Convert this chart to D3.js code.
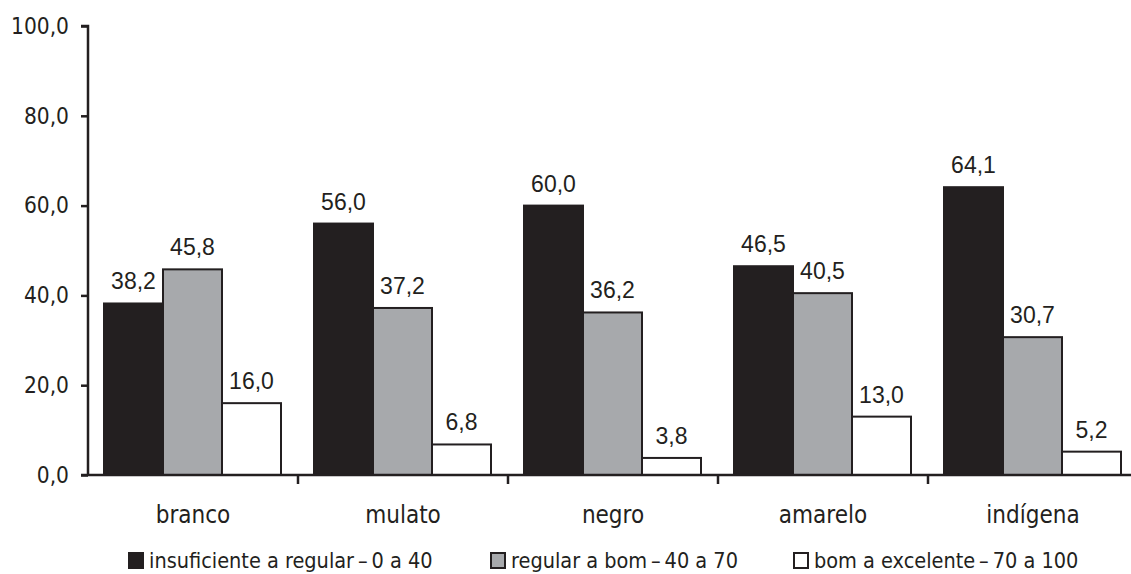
<!DOCTYPE html>
<html><head><meta charset="utf-8">
<script src="https://cdn.jsdelivr.net/npm/d3@7"></script>
<style>body{margin:0;background:#fff}svg{display:block}</style>
</head><body>
<svg id="c" width="1131" height="574"></svg>
<script>
const categories = ["branco","mulato","negro","amarelo","indígena"];
const seriesNames = ["insuficiente a regular\u2009–\u20090 a 40","regular a bom\u2009–\u200940 a 70","bom a excelente\u2009–\u200970 a 100"];
const insuficiente = [38.2,56.0,60.0,46.5,64.1];
const regular = [45.8,37.2,36.2,40.5,30.7];
const bom = [16.0,6.8,3.8,13.0,5.2];
const yTicks = [0,20,40,60,80,100];
const colors = ["#231f20","#a7a9ac","#ffffff"];

const series = [insuficiente, regular, bom];
const svg = d3.select("#c");
const ink = "#231f20";
const humanist = "'DejaVu Sans Condensed','DejaVu Sans',sans-serif";
const arial = "'Liberation Sans',Arial,sans-serif";

const x0 = 88, yTop = 26, yBot = 475;
const x = d3.scaleBand().domain(categories).range([x0, x0 + 5*210]).paddingInner(0).paddingOuter(0);
const xs = d3.scaleBand().domain([0,1,2]).range([16, 193]).padding(0);
const y = d3.scaleLinear().domain([0,100]).range([yBot, yTop]);

// bars
series.forEach((vals, si) => {
  svg.append("g").selectAll("rect").data(vals).join("rect")
    .attr("x", (d,i) => x(categories[i]) + xs(si))
    .attr("y", d => y(d))
    .attr("width", xs.bandwidth())
    .attr("height", d => y(0) - y(d))
    .attr("fill", colors[si])
    .attr("stroke", ink).attr("stroke-width", 2);
  svg.append("g").selectAll("text").data(vals).join("text")
    .attr("x", (d,i) => x(categories[i]) + xs(si) + xs.bandwidth()/2)
    .attr("y", d => y(d) - 14)
    .attr("text-anchor","middle")
    .attr("font-family", arial).attr("font-size", 23).attr("fill", ink)
    .text(d => d.toFixed(1).replace(".", ","));
});

// y axis
const yAxis = d3.axisLeft(y).tickValues(yTicks).tickSize(7).tickPadding(12)
  .tickFormat(d => d.toFixed(1).replace(".", ","));
const gy = svg.append("g").attr("transform", `translate(${x0},0)`).call(yAxis);
gy.select(".domain").attr("stroke", ink).attr("stroke-width", 2.5).attr("d", `M-7,${yTop}H0V${yBot}`);
gy.selectAll(".tick line").attr("stroke", ink).attr("stroke-width", 2.5);
gy.selectAll(".tick text").attr("font-family", humanist).attr("font-size", 22.5).attr("fill", ink);

// x axis
const gx = svg.append("g").attr("transform", `translate(0,${yBot})`);
gx.append("line").attr("x1", x0 - 7).attr("x2", 1131).attr("stroke", ink).attr("stroke-width", 2.5);
gx.selectAll("line.t").data(categories.slice(1)).join("line").attr("class","t")
  .attr("x1", d => x(d)).attr("x2", d => x(d)).attr("y1", 0).attr("y2", 9)
  .attr("stroke", ink).attr("stroke-width", 2.5);
gx.selectAll("text").data(categories).join("text")
  .attr("x", d => x(d) + x.bandwidth()/2).attr("y", 48)
  .attr("text-anchor","middle").attr("font-family", humanist).attr("font-size", 24).attr("fill", ink)
  .text(d => d);

// legend
const legX = [128, 490, 793];
const lg = svg.append("g");
seriesNames.forEach((n, i) => {
  const g = lg.append("g").attr("transform", `translate(${legX[i]},552)`);
  g.append("rect").attr("x", 1).attr("y", 1).attr("width", 14).attr("height", 15)
    .attr("fill", colors[i]).attr("stroke", ink).attr("stroke-width", 2);
  g.append("text").attr("x", 21).attr("y", 16).attr("font-family", humanist).attr("font-size", 21.5).attr("fill", ink).text(n);
});
</script>
</body></html>
